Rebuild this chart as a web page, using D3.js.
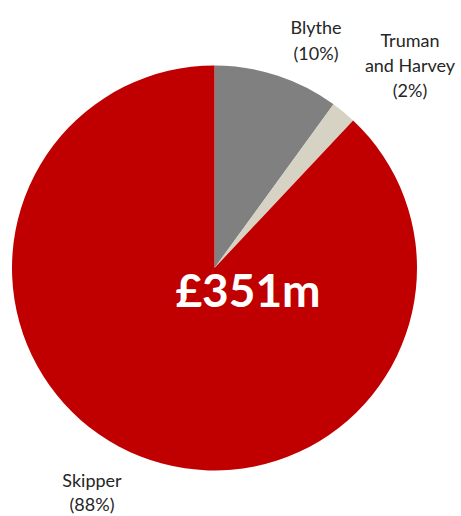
<!DOCTYPE html>
<html>
<head>
<meta charset="utf-8">
<script src="https://cdn.jsdelivr.net/npm/d3@7"></script>
<style>
  html, body { margin: 0; padding: 0; background: #fff; }
  svg { display: block; }
  text { font-family: Lato, "Open Sans", "Noto Sans", sans-serif; }
</style>
</head>
<body>
<svg id="chart" width="461" height="516"></svg>
<script>
// Share of total value by company
const companies = ["Blythe", "Truman and Harvey", "Skipper"];
const shares = [10, 2, 88];
const labelLines = [["Blythe", "(10%)"], ["Truman", "and Harvey", "(2%)"], ["Skipper", "(88%)"]];
const totalLabel = "£351m";
const colours = ["#808080", "#D6D2C4", "#C00000"];

const svg = d3.select("#chart");
const cx = 214.5, cy = 268, r = 202.5;

const data = companies.map((c, i) => ({ name: c, value: shares[i], lines: labelLines[i] }));

const pie = d3.pie().value(d => d.value).sort(null);
const arc = d3.arc().innerRadius(0).outerRadius(r);
const colour = d3.scaleOrdinal().domain(companies).range(colours);

const g = svg.append("g").attr("transform", `translate(${cx},${cy})`);
const arcs = pie(data);

g.selectAll("path.slice")
  .data(arcs)
  .join("path")
  .attr("class", "slice")
  .attr("d", arc)
  .attr("fill", d => colour(d.data.name));

// Outside labels: anchor point (centre x, first baseline y) and line step for each slice
const labelAnchors = [[316, 34, 26], [410, 47, 25], [92, 487, 24]];
arcs.forEach((a, i) => {
  const [x, y0, step] = labelAnchors[i];
  const t = svg.append("text")
    .attr("text-anchor", "middle")
    .attr("font-size", 18)
    .attr("fill", "#262626");
  a.data.lines.forEach((ln, j) => {
    t.append("tspan")
      .attr("x", x)
      .attr("y", y0 + j * step)
      .text(ln);
  });
});

// Total value in the centre
svg.append("text")
  .attr("x", 248)
  .attr("y", 307)
  .attr("text-anchor", "middle")
  .attr("font-size", 46)
  .attr("font-weight", "bold")
  .attr("fill", "#fff")
  .text(totalLabel);
</script>
</body>
</html>
